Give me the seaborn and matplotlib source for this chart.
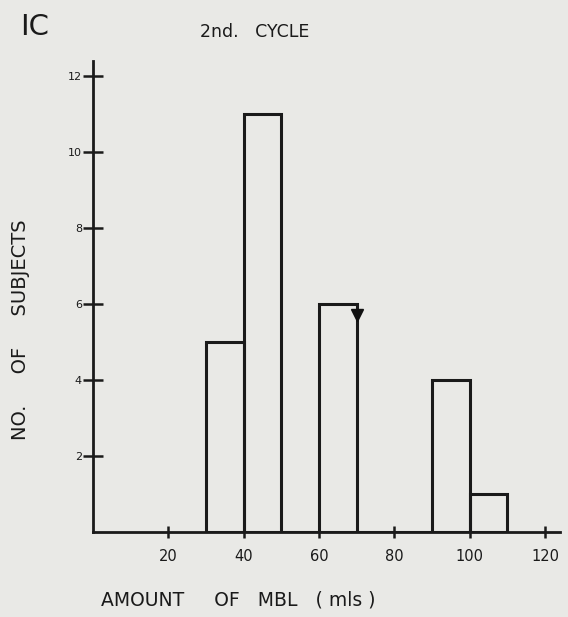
import seaborn as sns
import matplotlib.pyplot as plt
import pandas as pd

# bin counts (2nd cycle)
bin_lefts = [30, 40, 60, 90, 100]
counts = [5, 11, 6, 4, 1]
bin_edges = [30, 40, 50, 60, 70, 80, 90, 100, 110]
x_ticks = [20, 40, 60, 80, 100, 120]
y_ticks = [2, 4, 6, 8, 10, 12]

df = pd.DataFrame({'mbl': [b + 5 for b in bin_lefts], 'n': counts})

sns.set_style('white')
plt.rcParams['font.family'] = ['DejaVu Sans']
bg = '#e9e9e6'
ink = '#1a1a1a'

fig = plt.figure(figsize=(5.68, 6.17), dpi=100, facecolor=bg)
ax = fig.add_axes([0.164, 0.138, 0.822, 0.763])
ax.set_facecolor(bg)

sns.histplot(data=df, x='mbl', weights='n', bins=bin_edges, fill=False,
             color=ink, linewidth=2.2, element='bars', ax=ax)

# small black marker on the 60-70 bar
ax.plot([70], [5.72], marker='v', color='#111111', markersize=8)

ax.set_xlim(0, 124)
ax.set_ylim(0, 12.4)
for s in ['top', 'right']:
    ax.spines[s].set_visible(False)
for s in ['left', 'bottom']:
    ax.spines[s].set_linewidth(2)
    ax.spines[s].set_color(ink)

ax.set_xticks(x_ticks)
ax.set_yticks(y_ticks)
ax.tick_params(axis='y', left=True, direction='inout', length=14, width=1.8,
               labelsize=8, pad=1, colors=ink)
ax.tick_params(axis='x', bottom=True, direction='inout', length=8, width=1.8,
               labelsize=10.5, pad=8, colors=ink)

ax.set_xlabel('AMOUNT     OF   MBL   ( mls )', fontsize=13.5, color=ink)
ax.xaxis.set_label_coords(0.31, -0.125)
ax.set_ylabel('NO.     OF     SUBJECTS', fontsize=14, color=ink)
ax.yaxis.set_label_coords(-0.135, 0.43)

fig.text(0.352, 0.948, '2nd.   CYCLE', fontsize=12.5, color=ink, va='center')
fig.text(0.035, 0.957, 'IC', fontsize=21, color=ink, va='center')

fig.savefig('out.png', dpi=100, facecolor=bg)
